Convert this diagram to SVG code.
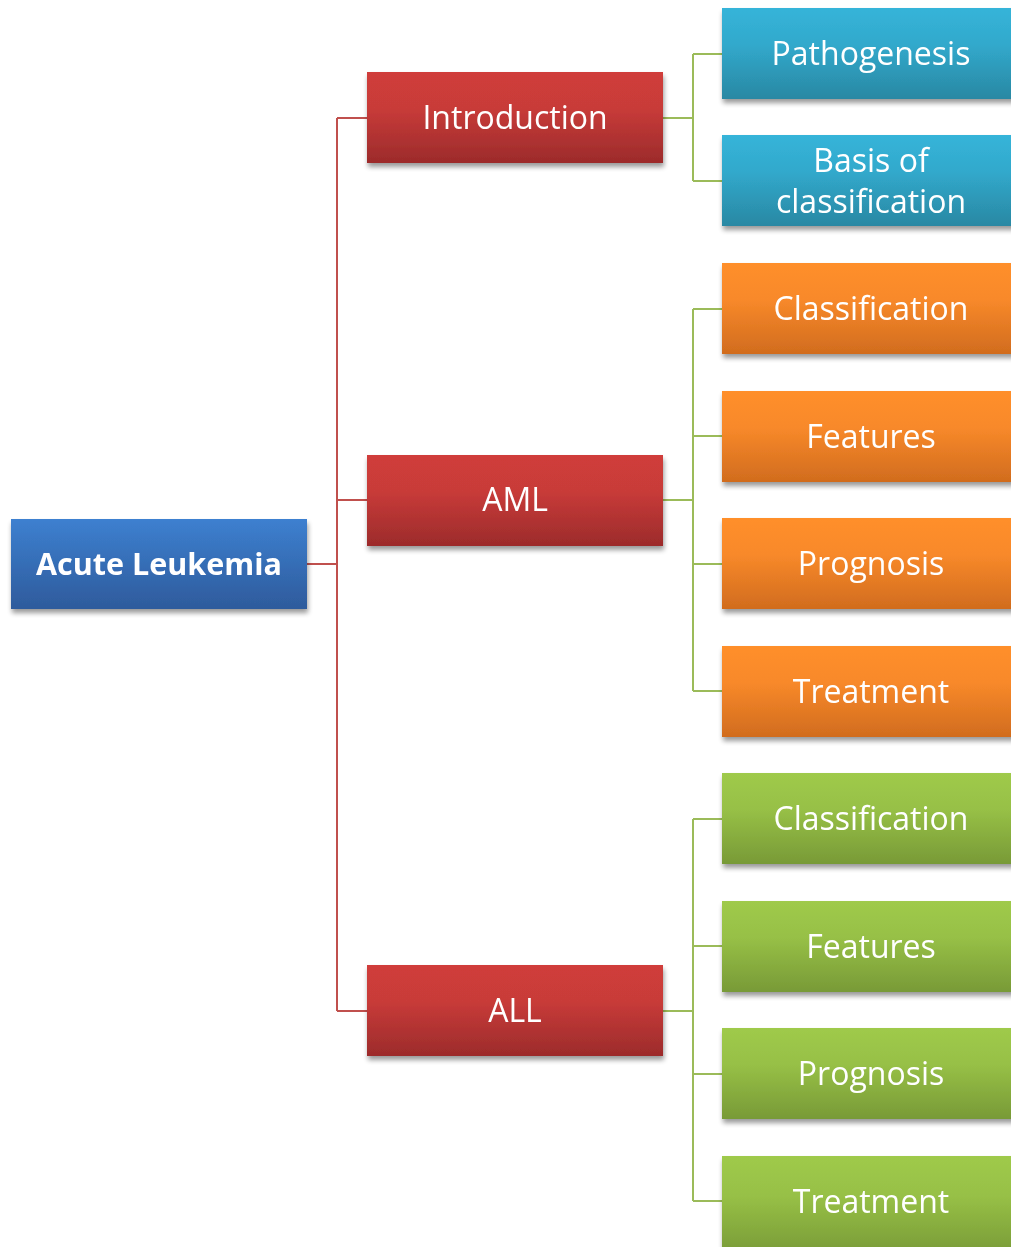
<svg xmlns="http://www.w3.org/2000/svg" width="1011" height="1247" viewBox="0 0 1011 1247">
<defs>
<linearGradient id="gBlue" x1="0" y1="0" x2="0" y2="1"><stop offset="0" stop-color="#3D80D0"/><stop offset="1" stop-color="#2E5B9C"/></linearGradient>
<linearGradient id="gRed" x1="0" y1="0" x2="0" y2="1"><stop offset="0" stop-color="#D03D3A"/><stop offset="0.4" stop-color="#C83B39"/><stop offset="1" stop-color="#9C2B2B"/></linearGradient>
<linearGradient id="gTeal" x1="0" y1="0" x2="0" y2="1"><stop offset="0" stop-color="#36B4D9"/><stop offset="0.4" stop-color="#31A9CC"/><stop offset="1" stop-color="#2A88A3"/></linearGradient>
<linearGradient id="gOrange" x1="0" y1="0" x2="0" y2="1"><stop offset="0" stop-color="#FF8F2C"/><stop offset="0.4" stop-color="#F8892A"/><stop offset="1" stop-color="#D16C1E"/></linearGradient>
<linearGradient id="gGreen" x1="0" y1="0" x2="0" y2="1"><stop offset="0" stop-color="#9FCA4B"/><stop offset="0.4" stop-color="#97C046"/><stop offset="1" stop-color="#789A37"/></linearGradient>
<filter id="sh" x="-10%" y="-10%" width="125%" height="135%"><feGaussianBlur in="SourceAlpha" stdDeviation="2.5"/><feOffset dx="1" dy="4" result="b"/><feComponentTransfer><feFuncA type="linear" slope="0.4"/></feComponentTransfer><feMerge><feMergeNode/><feMergeNode in="SourceGraphic"/></feMerge></filter>
</defs>
<style>
text{font-family:"Open Sans","Noto Sans",sans-serif;fill:#fff;text-anchor:middle;font-size:32px}
.b{font-weight:bold;font-size:30.5px}
.rc{fill:none;stroke:#C0504D;stroke-width:2}
.gc{fill:none;stroke:#9BBB59;stroke-width:2}
</style>
<g id="connectors">
<path class="rc" d="M307 564H337M337 118V1011M337 118H367M337 500H367M337 1011H367"/>
<path class="gc" d="M663 118H693M693 54V181M693 54H722M693 181H722"/>
<path class="gc" d="M663 500H693M693 309V691M693 309H722M693 436H722M693 564H722M693 691H722"/>
<path class="gc" d="M663 1011H693M693 819V1201M693 819H722M693 946H722M693 1074H722M693 1201H722"/>
</g>
<g id="root" filter="url(#sh)"><rect x="11" y="519" width="296" height="90" fill="url(#gBlue)"/><text class="b" x="159" y="575">Acute Leukemia</text></g>
<g id="introduction" filter="url(#sh)"><rect x="367" y="72" width="296" height="91" fill="url(#gRed)"/><text x="515" y="129">Introduction</text></g>
<g id="aml" filter="url(#sh)"><rect x="367" y="455" width="296" height="91" fill="url(#gRed)"/><text x="515" y="511">AML</text></g>
<g id="all" filter="url(#sh)"><rect x="367" y="965" width="296" height="91" fill="url(#gRed)"/><text x="515" y="1022">ALL</text></g>
<g id="pathogenesis" filter="url(#sh)"><rect x="722" y="8" width="300" height="91" fill="url(#gTeal)"/><text x="871" y="65">Pathogenesis</text></g>
<g id="basis" filter="url(#sh)"><rect x="722" y="135" width="300" height="91" fill="url(#gTeal)"/><text x="871" y="172">Basis of</text><text x="871" y="213">classification</text></g>
<g id="aml-classification" filter="url(#sh)"><rect x="722" y="263" width="300" height="91" fill="url(#gOrange)"/><text x="871" y="320">Classification</text></g>
<g id="aml-features" filter="url(#sh)"><rect x="722" y="391" width="300" height="91" fill="url(#gOrange)"/><text x="871" y="448">Features</text></g>
<g id="aml-prognosis" filter="url(#sh)"><rect x="722" y="518" width="300" height="91" fill="url(#gOrange)"/><text x="871" y="575">Prognosis</text></g>
<g id="aml-treatment" filter="url(#sh)"><rect x="722" y="646" width="300" height="91" fill="url(#gOrange)"/><text x="871" y="703">Treatment</text></g>
<g id="all-classification" filter="url(#sh)"><rect x="722" y="773" width="300" height="91" fill="url(#gGreen)"/><text x="871" y="830">Classification</text></g>
<g id="all-features" filter="url(#sh)"><rect x="722" y="901" width="300" height="91" fill="url(#gGreen)"/><text x="871" y="958">Features</text></g>
<g id="all-prognosis" filter="url(#sh)"><rect x="722" y="1028" width="300" height="91" fill="url(#gGreen)"/><text x="871" y="1085">Prognosis</text></g>
<g id="all-treatment" filter="url(#sh)"><rect x="722" y="1156" width="300" height="100" fill="url(#gGreen)"/><text x="871" y="1213">Treatment</text></g>
</svg>
